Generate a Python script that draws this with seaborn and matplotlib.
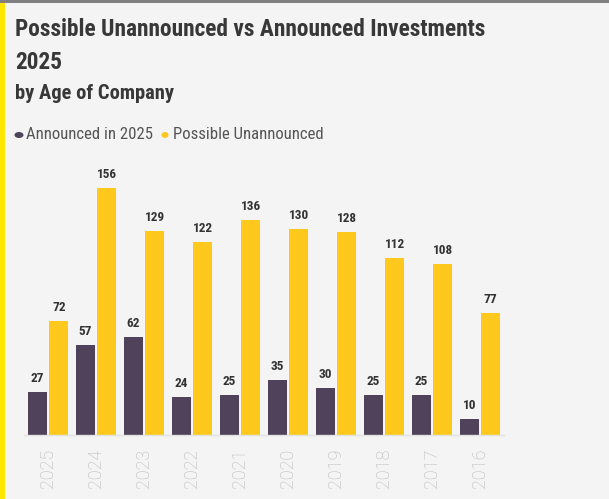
import matplotlib
matplotlib.use("Agg")
import matplotlib.pyplot as plt
import seaborn as sns
import pandas as pd
from matplotlib.patches import Rectangle, Ellipse

# Data
years = ["2025", "2024", "2023", "2022", "2021", "2020", "2019", "2018", "2017", "2016"]
announced = [27, 57, 62, 24, 25, 35, 30, 25, 25, 10]
possible = [72, 156, 129, 122, 136, 130, 128, 112, 108, 77]
series_names = ["Announced in 2025", "Possible Unannounced"]

PURPLE = "#4f425a"
YELLOW = "#fec81c"
BG = "#f4f4f4"

df = pd.DataFrame({
    "year": years * 2,
    "value": announced + possible,
    "series": [series_names[0]] * len(years) + [series_names[1]] * len(years),
})

sns.set_theme(style="white")
plt.rcParams["font.family"] = ["Roboto Condensed", "Roboto", "DejaVu Sans"]

fig = plt.figure(figsize=(6.09, 4.99), dpi=100, facecolor=BG)
ax = fig.add_axes([24 / 609, 64 / 499, 480 / 609, 277 / 499])
ax.set_facecolor(BG)

sns.barplot(
    data=df, x="year", y="value", hue="series", order=years,
    hue_order=series_names, palette=[PURPLE, YELLOW],
    width=0.9, gap=0.13, ax=ax, legend=False, saturation=1, linewidth=0,
)

ax.set_ylim(0, 175)
ax.set_xlim(-0.5, len(years) - 0.5)
for s in ["top", "right", "left"]:
    ax.spines[s].set_visible(False)
ax.spines["bottom"].set_color("#e2e2e2")
ax.spines["bottom"].set_linewidth(1)
ax.set_yticks([])
ax.set_xlabel("")
ax.set_ylabel("")
ax.tick_params(axis="x", length=0, pad=10, labelsize=13, labelcolor="#b8b8b8",
               rotation=90)
for lbl in ax.get_xticklabels():
    lbl.set_family(["Roboto", "DejaVu Sans"])
    lbl.set_fontweight("light")

# value labels above each bar
for cont in ax.containers:
    ax.bar_label(cont, padding=5, fontsize=9.5, fontweight="bold", color="#333333")

# Title block
fig.text(15 / 609, 1 - 18 / 499, "Possible Unannounced vs Announced Investments",
         fontsize=16.8, fontweight="bold", color="#383838", va="top", ha="left")
fig.text(15 / 609, 1 - 51 / 499, "2025",
         fontsize=16.8, fontweight="bold", color="#383838", va="top", ha="left")
fig.text(15 / 609, 1 - 84 / 499, "by Age of Company", fontsize=14.8, fontweight="bold",
         color="#383838", va="top", ha="left")

# Legend
fig.patches.append(Ellipse((19 / 609, 1 - 135 / 499), 9 / 609, 6 / 499,
                           transform=fig.transFigure, facecolor=PURPLE, edgecolor="none"))
fig.text(26 / 609, 1 - 135 / 499, series_names[0], fontsize=12.1, color="#555555",
         va="center", ha="left")
fig.patches.append(Ellipse((165 / 609, 1 - 135 / 499), 7 / 609, 6 / 499,
                           transform=fig.transFigure, facecolor=YELLOW, edgecolor="none"))
fig.text(173 / 609, 1 - 135 / 499, series_names[1], fontsize=12.1, color="#555555",
         va="center", ha="left")

# Frame accents
fig.patches.append(Rectangle((0, 0), 5 / 609, 1, transform=fig.transFigure,
                             facecolor="#ffe600", edgecolor="none"))
fig.patches.append(Rectangle((0, 1 - 3 / 499), 1, 3 / 499, transform=fig.transFigure,
                             facecolor="#808080", edgecolor="none"))

fig.savefig("out.png", dpi=100, facecolor=BG)
